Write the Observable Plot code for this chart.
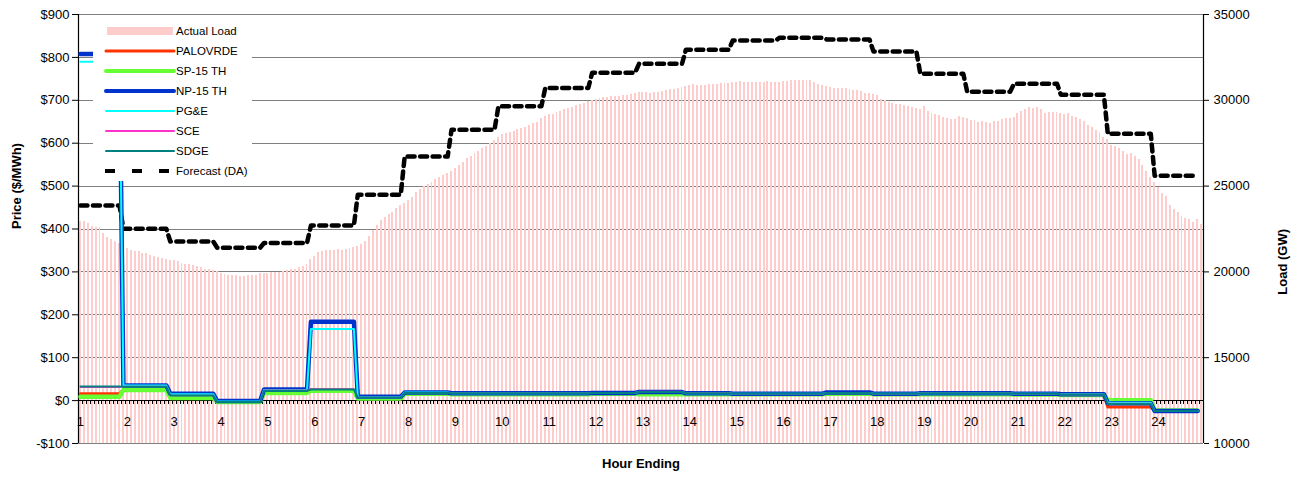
<!DOCTYPE html>
<html><head><meta charset="utf-8">
<script src="https://cdn.jsdelivr.net/npm/d3@7"></script>
<script src="https://cdn.jsdelivr.net/npm/@observablehq/plot@0.6"></script>
<style>
html,body{margin:0;padding:0;background:#fff;}
#chart{position:relative;width:1299px;height:478px;}
</style></head><body><div id="chart"></div>
<script>
// ---------- DATA ----------
const hourLabels = ["1","2","3","4","5","6","7","8","9","10","11","12","13","14","15","16","17","18","19","20","21","22","23","24"];
const seriesNames = ["PALOVRDE","SP-15 TH","NP-15 TH","PG&E","SCE","SDGE"];
const seriesColors = ["#ff3300","#66ff33","#0033cc","#00ffff","#ff33cc","#008080"];
// hourly prices ($/MWh), hour ending 1..24
const palovrde = [16, 26, 8, -3, 20, 25, 6, 17, 16, 16, 16, 17, 18, 16, 15, 15, 17, 15, 16, 16, 15, 13, -15, -24];
const sp15     = [9, 25, 6, -3, 18, 23, 5, 16, 15, 15, 15, 16, 15, 15, 15, 15, 16, 15, 15, 15, 14, 13, 1, -23];
const np15     = [808, 35, 16, -1, 26, 184, 9, 19, 17, 17, 17, 18, 20, 17, 16, 16, 19, 16, 17, 17, 16, 15, -6, -24];
const pge      = [790, 35, 15, -2, 25, 167, 8, 19, 17, 17, 17, 18, 20, 17, 16, 16, 18, 16, 17, 17, 16, 15, -5, -24];
const sce      = [31, 33, 12, -3, 24, 27, 7, 18, 17, 17, 17, 18, 21, 18, 16, 16, 18, 16, 17, 17, 16, 14, -7, -24];
const sdge     = [33, 32, 12, -3, 23, 26, 7, 18, 17, 17, 17, 18, 20, 17, 16, 16, 18, 16, 17, 17, 16, 14, -8, -24];
// day-ahead load forecast, hourly
const forecastDA = [23870, 22510, 21770, 21410, 21680, 22700, 24500, 26720, 28280, 29650, 30720, 31600,
                    32130, 32950, 33490, 33650, 33550, 32850, 31550, 30500, 30960, 30320, 28050, 25600];
// actual load, 5-minute intervals (288)
const actualLoad = [
 22960,22960,22840,22650,22610,22570,22260,22020,21870,21790,
 21650,
 21480,21340,21250,21210,21210,21090,21050,20980,20900,20820,
 20760,20700,20660,20660,20630,20510,20430,20410,20350,20310,
 20280,20120,20120,20080,20000,19930,19830,19790,19790,19770,
 19730,19730,19770,19790,19810,19890,19890,19930,19960,19960,
 19980,20040,20080,20120,20160,20240,20330,20410,20700,20900,
 21130,21190,21250,21250,21250,21310,21250,21310,21370,21420,
 21480,21600,21770,22060,22410,22700,
 22990,23190,23340,23480,23670,23870,24000,24160,24350,24650,
 24780,24980,25090,25230,25370,25520,25620,25710,25870,26050,
 26200,26390,26590,26730,26880,27020,27170,27310,27460,27660,
 27850,27990,28090,28140,28200,28280,28360,28430,28530,28630,
 28730,28920,29060,29150,29190,29270,29370,29450,29520,29600,
 29680,29760,29830,29930,29990,30070,30130,30180,30140,30200,
 30220,30220,30280,30300,30340,30400,30460,30480,30480,30420,
 30460,30480,30530,30570,30610,30650,30690,30730,30790,30840,
 30900,30840,30840,30880,30900,30900,30940,30960,30960,31000,
 31040,31060,31100,31020,31020,31020,31020,31040,31040,31080,
 31060,31060,31060,31080,31120,31140,31140,31140,31140,31140,
 31140,31040,30940,30840,30790,30770,30710,30670,30670,30670,
 30610,30570,30550,30490,30420,30380,
 30340,30280,30050,29990,29870,29830,29780,29740,29700,29640,
 29580,29540,29470,29640,29350,29250,29190,29120,28980,28940,
 28880,28880,29060,29020,28940,28820,28820,28710,28770,28710,
 28650,28770,28770,28880,28940,28940,29000,29250,29350,29470,
 29580,29520,29580,29470,29230,29290,29290,29290,29230,29170,
 29210,29080,28980,28860,28750,28530,28400,28240,28110,27850,
 27700,27390,27310,27210,27040,26840,26920,26730,26530,26200,
 25870,25480,25230,24940,24590,24390,23870,23660,23440,23250,
 23130,23050,22900,23050,22760
];
const priceTicks = [-100, 0, 100, 200, 300, 400, 500, 600, 700, 800, 900];
const loadTicks = [10000, 15000, 20000, 25000, 30000, 35000];

// ---------- HELPERS ----------
const toP = load => (load - 10000) / 25 - 100;     // load axis -> price axis
const fromP = p => (p + 100) * 25 + 10000;
const nSlots = 288;
function hourSpan(h) { return [Math.max(0, 12 * h - 1), 12 * h + 10]; }
function stepPoints(values) {
  const pts = [];
  values.forEach((v, h) => {
    const [s, e] = hourSpan(h);
    pts.push({x: s + 0.5, v}, {x: e + 0.5, v});
  });
  return pts;
}
const seriesValues = [palovrde, sp15, np15, pge, sce, sdge];
const seriesWidths = [3, 4.5, 4.5, 2, 1.5, 2];

const bars = actualLoad.map((v, i) => ({i, v}));
const fcPts = stepPoints(forecastDA);
const fmtPrice = d => d < 0 ? "-$" + (-d) : "$" + d;

const marks = [
  Plot.ruleY(priceTicks, {stroke: "#808080", strokeWidth: 1, shapeRendering: "crispEdges"}),
  Plot.rect(bars, {x1: d => d.i + 0.25, x2: d => d.i + 0.75, y1: -100, y2: d => toP(d.v), fill: "#ffcccc", shapeRendering: "crispEdges"}),
  Plot.ruleY([0], {stroke: "black", strokeWidth: 1, shapeRendering: "crispEdges"}),
  Plot.ruleX(d3.range(nSlots + 1), {x: d => d, y1: 0, y2: 0, insetTop: 4, insetBottom: 0, stroke: "black", strokeWidth: 1, shapeRendering: "crispEdges"}),
  Plot.ruleX([0, nSlots], {stroke: "black", strokeWidth: 1.2}),
  Plot.line(fcPts, {x: "x", y: d => toP(d.v), stroke: "black", strokeWidth: 4.5, strokeDasharray: "7,5.5"}),
  ...seriesValues.map((vals, k) => Plot.line(stepPoints(vals), {
    x: "x", y: "v", stroke: seriesColors[k], strokeWidth: seriesWidths[k], strokeLinejoin: "round"
  })),
  Plot.text(hourLabels, {x: (d, k) => k * 12 + 0.5, y: 0, dy: 21, fontSize: 13, fill: "black"}),
  Plot.axisY({anchor: "left", ticks: priceTicks, tickFormat: fmtPrice, tickSize: 6, tickPadding: 3, label: null, fontSize: 13}),
  Plot.axisY({anchor: "right", ticks: loadTicks.map(toP), tickFormat: p => String(Math.round(fromP(p))), tickSize: 5, tickPadding: 5, label: null, fontSize: 13}),
  Plot.text(["Price ($/MWh)"], {frameAnchor: "left", rotate: -90, dx: -62, fontWeight: "bold", fontSize: 13, fill: "black"}),
  Plot.text(["Load (GW)"], {frameAnchor: "right", rotate: -90, dx: 79, fontWeight: "bold", fontSize: 13, fill: "black"}),
  Plot.text(["Hour Ending"], {frameAnchor: "bottom", dy: 24, fontWeight: "bold", fontSize: 13, fill: "black"})
];

const chart = Plot.plot({
  width: 1299, height: 478,
  marginLeft: 78, marginRight: 96, marginTop: 14, marginBottom: 35,
  x: {type: "linear", domain: [0, nSlots], axis: null},
  y: {domain: [-100, 900], axis: null},
  style: {fontFamily: "'Liberation Sans', Arial, sans-serif", fontSize: "13px", color: "black", background: "white", overflow: "visible"},
  marks
});
document.getElementById("chart").appendChild(chart);

// ---------- LEGEND (inside plot area, white box) ----------
const svg = d3.select(chart);
const lg = svg.append("g").attr("font-size", "11.5px").attr("font-family", "'Liberation Sans', Arial, sans-serif").attr("text-anchor", "start");
lg.append("rect").attr("x", 93).attr("y", 18).attr("width", 159).attr("height", 163).attr("fill", "white");
const legendItems = [{name: "Actual Load", type: "bar"}]
  .concat(seriesNames.map((n, k) => ({name: n, type: "line", color: seriesColors[k], w: seriesWidths[k] < 2 ? 2 : Math.min(seriesWidths[k], 4)})))
  .concat([{name: "Forecast (DA)", type: "dash"}]);
legendItems.forEach((it, k) => {
  const y = 31 + k * 20;
  if (it.type === "bar") {
    lg.append("rect").attr("x", 107).attr("y", y - 4).attr("width", 66).attr("height", 8).attr("fill", "#ffcccc");
  } else if (it.type === "line") {
    lg.append("line").attr("x1", 106).attr("x2", 174).attr("y1", y).attr("y2", y)
      .attr("stroke", it.color).attr("stroke-width", it.w).attr("stroke-linecap", "round");
  } else {
    lg.append("line").attr("x1", 105).attr("x2", 173).attr("y1", y).attr("y2", y)
      .attr("stroke", "black").attr("stroke-width", 4).attr("stroke-dasharray", "10,17");
  }
  lg.append("text").attr("x", 176).attr("y", y).attr("dy", "0.35em").attr("fill", "black").attr("text-anchor", "start").text(it.name);
});
</script></body></html>
